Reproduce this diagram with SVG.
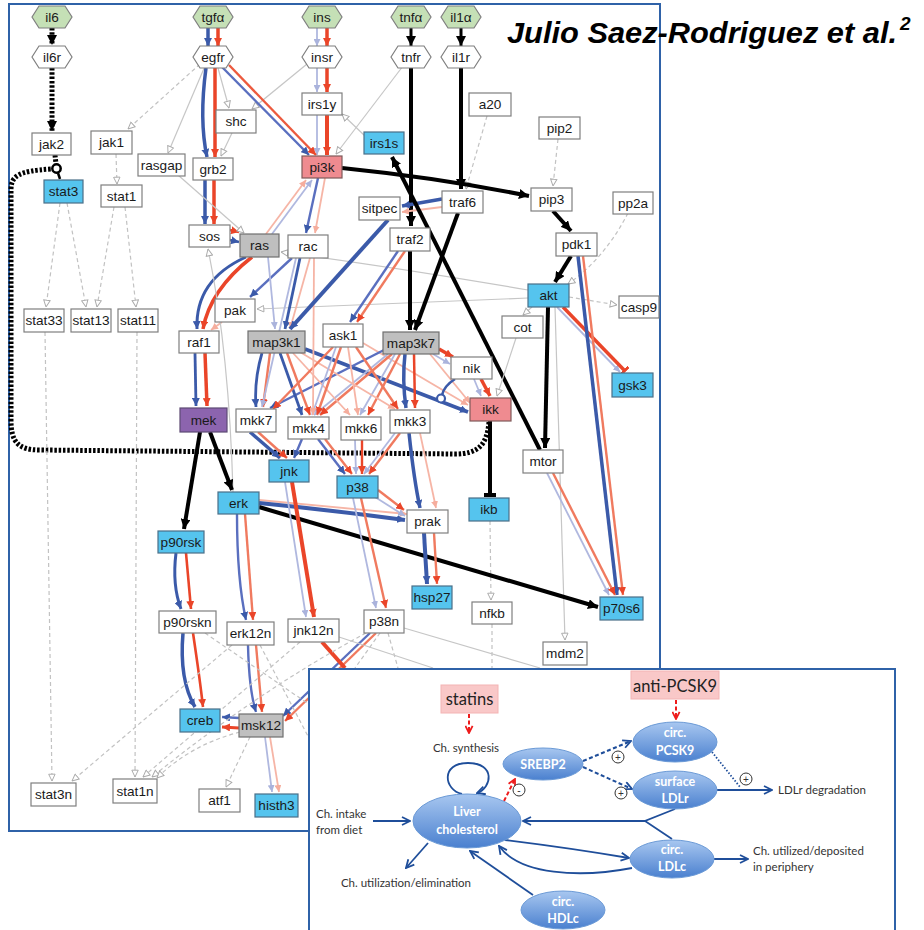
<svg xmlns="http://www.w3.org/2000/svg" width="924" height="930" viewBox="0 0 924 930">
<defs>
  <style>
    .t{font-family:"Liberation Sans",Arial,sans-serif;font-size:13.6px;fill:#1a1a1a;text-anchor:middle}
    .box{fill:#fff;stroke:#7f7f7f;stroke-width:1.2}
    .bl-n{fill:#55c4ee;stroke:#4a6f88;stroke-width:1.2}
    .pk-n{fill:#ef8b90;stroke:#7f5a5a;stroke-width:1.2}
    .gy-n{fill:#bfbfbf;stroke:#6f6f6f;stroke-width:1.2}
    .pu-n{fill:#8c64ae;stroke:#5d4a73;stroke-width:1.2}
    .hx-g{fill:#c5e0b6;stroke:#7f7f7f;stroke-width:1.2}
    .hx-w{fill:#fff;stroke:#7f7f7f;stroke-width:1.2}
    #edges path{fill:none}
    .k{stroke:#000;stroke-width:4}
    .kd{stroke:#000;stroke-width:5;stroke-dasharray:2.5 1.8}
    .b{stroke:#3b5aa9;stroke-width:3.5}
    .bm{stroke:#5a6fbf;stroke-width:2.4}
    .bl{stroke:#b0b8df;stroke-width:1.8}
    .r{stroke:#ea4529;stroke-width:3.5}
    .rm{stroke:#f07a5f;stroke-width:2.4}
    .rl{stroke:#f6b5a6;stroke-width:1.8}
    .g{stroke:#c6c6c6;stroke-width:1.2}
    .gd{stroke:#c2c2c2;stroke-width:1.2;stroke-dasharray:4 3}
    .it{font-family:Lato,"Open Sans",sans-serif;font-size:11.5px;fill:#333}
    .et{font-family:Lato,"Open Sans",sans-serif;font-size:12.5px;font-weight:bold;fill:#fff;text-anchor:middle}
    .ia{stroke:#1f4e9a;stroke-width:1.8;fill:none}
    .iad{stroke:#1f4e9a;stroke-width:2;stroke-dasharray:4 2.5;fill:none}
    .rd{stroke:#ee1c1c;stroke-width:2;stroke-dasharray:4 2.5;fill:none}
    .ell{fill:url(#eg);stroke:#6b9ad6;stroke-width:1}
    .sg{fill:#fff;stroke:#333;stroke-width:1}
  </style>
  <linearGradient id="eg" x1="0" y1="0" x2="0" y2="1">
    <stop offset="0" stop-color="#a8c7f0"/>
    <stop offset="1" stop-color="#4a80cf"/>
  </linearGradient>
  <marker id="mk" viewBox="0 0 10 10" refX="10" refY="5" markerWidth="10" markerHeight="10" markerUnits="userSpaceOnUse" orient="auto"><path d="M0,0L10,5L0,10z" fill="#000"/></marker>
  <marker id="mb" viewBox="0 0 10 10" refX="10" refY="5" markerWidth="8" markerHeight="8" markerUnits="userSpaceOnUse" orient="auto"><path d="M0,0L10,5L0,10z" fill="#3b5aa9"/></marker>
  <marker id="mr" viewBox="0 0 10 10" refX="10" refY="5" markerWidth="8" markerHeight="8" markerUnits="userSpaceOnUse" orient="auto"><path d="M0,0L10,5L0,10z" fill="#ea4529"/></marker>
  <marker id="mbl" viewBox="0 0 10 10" refX="10" refY="5" markerWidth="7" markerHeight="7" markerUnits="userSpaceOnUse" orient="auto"><path d="M0,0L10,5L0,10z" fill="#aab3dc"/></marker>
  <marker id="mrl" viewBox="0 0 10 10" refX="10" refY="5" markerWidth="7" markerHeight="7" markerUnits="userSpaceOnUse" orient="auto"><path d="M0,0L10,5L0,10z" fill="#f5ad9d"/></marker>
  <marker id="mg" viewBox="0 0 10 10" refX="9.5" refY="5" markerWidth="8" markerHeight="8" markerUnits="userSpaceOnUse" orient="auto"><path d="M1,1L9.5,5L1,9z" fill="#fff" stroke="#aaa" stroke-width="1.2"/></marker>
  <marker id="tk" viewBox="0 0 4 12" refX="3" refY="6" markerWidth="4" markerHeight="12" markerUnits="userSpaceOnUse" orient="auto"><rect x="0" y="0" width="4" height="12" fill="#000"/></marker>
  <marker id="tr" viewBox="0 0 3 11" refX="2" refY="5.5" markerWidth="3" markerHeight="11" markerUnits="userSpaceOnUse" orient="auto"><rect x="0" y="0" width="3" height="11" fill="#ea4529"/></marker>
  <marker id="mi" viewBox="0 0 10 10" refX="9" refY="5" markerWidth="10" markerHeight="10" markerUnits="userSpaceOnUse" orient="auto"><path d="M1,1L9,5L1,9" fill="none" stroke="#1f4e9a" stroke-width="1.8"/></marker>
  <marker id="mird" viewBox="0 0 10 10" refX="9" refY="5" markerWidth="9" markerHeight="9" markerUnits="userSpaceOnUse" orient="auto"><path d="M1,1L9,5L1,9" fill="none" stroke="#ee1c1c" stroke-width="2"/></marker>
</defs>

<rect width="924" height="930" fill="#fff"/>
<!-- network frame -->
<rect x="9" y="4" width="651" height="827" fill="#fff" stroke="#2f62a8" stroke-width="2"/>

<g id="edges">
  <!-- dotted feedback and il6 branch -->
  <path class="kd" d="M52,28L52,45" marker-end="url(#mk)"/>
  <path class="kd" d="M52,68L52,131" marker-end="url(#mk)"/>
  <path class="kd" d="M55,155L56,164"/>
  <path class="kd" d="M489,422C487,445 478,454 455,454L40,450C18,450 11,442 11,420L11,190C11,176 18,171 51,169"/>
  <circle cx="56.5" cy="168.5" r="4.2" fill="#fff" stroke="#000" stroke-width="2.5"/>
  <path class="k" style="stroke-width:2.5" d="M58,173L60,179"/>

  <!-- ligands to receptors -->
  <path class="b" d="M208,28L208,46" marker-end="url(#mb)"/>
  <path class="r" d="M218,28L218,46" marker-end="url(#mr)"/>
  <path class="bl" d="M317,28L317,46" marker-end="url(#mbl)"/>
  <path class="r" d="M327,28L327,46" marker-end="url(#mr)"/>
  <path class="k" style="stroke-width:3" d="M411,28L411,46" marker-end="url(#mk)"/>
  <path class="k" style="stroke-width:3" d="M461,28L461,46" marker-end="url(#mk)"/>
  <path class="bl" d="M317,68L317,92" marker-end="url(#mbl)"/>
  <path class="r" d="M327,68L327,92" marker-end="url(#mr)"/>
  <path class="bl" d="M317,115L317,155" marker-end="url(#mbl)"/>
  <path class="r" style="stroke-width:4" d="M327,115L327,155" marker-end="url(#mr)"/>

  <!-- egfr branch -->
  <path class="gd" d="M200,64L128,129" marker-end="url(#mg)"/>
  <path class="g" d="M205,66L168,153" marker-end="url(#mg)"/>
  <path class="g" d="M218,68L229,108" marker-end="url(#mg)"/>
  <path class="g" d="M232,133L221,156" marker-end="url(#mg)"/>
  <path class="g" d="M307,64L252,109" marker-end="url(#mg)"/>
  <path class="b" d="M206,68Q199,120 207,157" marker-end="url(#mb)"/>
  <path class="r" d="M215,68L215,157" marker-end="url(#mr)"/>
  <path class="bm" d="M222,67L309,155" marker-end="url(#mb)"/>
  <path class="rm" style="stroke:#ec5a3e" d="M229,65L316,155" marker-end="url(#mr)"/>
  <path class="b" d="M205,180L205,224" marker-end="url(#mb)"/>
  <path class="r" d="M214,180L214,224" marker-end="url(#mr)"/>
  <path class="r" style="stroke-width:2.5" d="M230,230L239,232" marker-end="url(#mr)"/>
  <path class="b" style="stroke-width:2.5" d="M230,240L239,242" marker-end="url(#mb)"/>
  <path class="g" d="M178,175L244,233" marker-end="url(#mg)"/>
  <path class="g" d="M403,66L336,154" marker-end="url(#mg)"/>
  <path class="g" d="M365,136L342,114" marker-end="url(#mg)"/>
  <path class="gd" d="M487,116L466,189" marker-end="url(#mg)"/>
  <path class="gd" d="M558,139L553,186" marker-end="url(#mg)"/>
  <path class="gd" d="M116,154L117,184" marker-end="url(#mg)"/>

  <!-- stat branch -->
  <path class="gd" d="M60,203L46,307" marker-end="url(#mg)"/>
  <path class="gd" d="M67,203L86,307" marker-end="url(#mg)"/>
  <path class="gd" d="M114,207L97,307" marker-end="url(#mg)"/>
  <path class="gd" d="M125,207L136,307" marker-end="url(#mg)"/>
  <path class="gd" d="M45,332L52,781" marker-end="url(#mg)"/>
  <path class="gd" d="M137,332L135,777" marker-end="url(#mg)"/>

  <!-- akt / pi3k branch -->
  <path class="k" d="M342,168Q440,178 529,196" marker-end="url(#mk)"/>
  <path class="k" d="M553,211L571,231" marker-end="url(#mk)"/>
  <path class="k" d="M571,256L555,282" marker-end="url(#mk)"/>
  <path class="gd" d="M628,213Q605,258 568,284" marker-end="url(#mg)"/>
  <path class="gd" d="M569,297L617,305" marker-end="url(#mg)"/>
  <path class="bl" d="M557,307L620,372" marker-end="url(#mbl)"/>
  <path class="r" d="M563,307L625,371" marker-end="url(#tr)"/>
  <path class="g" d="M532,307L523,315" marker-end="url(#mg)"/>
  <path class="k" d="M548,307L545,448" marker-end="url(#mk)"/>
  <path class="g" d="M555,307L565,640" marker-end="url(#mg)"/>
  <path class="g" d="M528,290Q400,268 281,252" marker-end="url(#mg)"/>
  <path class="g" d="M528,298L257,309" marker-end="url(#mg)"/>
  <path class="b" d="M578,256L617,595" marker-end="url(#mb)"/>
  <path class="rm" d="M583,256L623,595" marker-end="url(#mr)"/>
  <path class="bl" d="M547,473L609,595" marker-end="url(#mbl)"/>
  <path class="rm" d="M553,473L615,595" marker-end="url(#mr)"/>

  <!-- tnf / il1 branch -->
  <path class="k" d="M411,68L411,226" marker-end="url(#mk)"/>
  <path class="k" d="M461,68L461,189" marker-end="url(#mk)"/>
  <path class="b" d="M442,199L402,206" marker-end="url(#mb)"/>
  <path class="rl" d="M442,207L402,212" marker-end="url(#mrl)"/>
  <path class="k" d="M540,450L392,157" marker-end="url(#mk)"/>
  <path class="k" d="M458,213L415,330" marker-end="url(#mk)"/>
  <path class="k" d="M410,251L410,330" marker-end="url(#mk)"/>
  <path class="k" d="M490,421L490,496" marker-end="url(#tk)"/>
  <path class="gd" d="M490,521L491,600" marker-end="url(#mg)"/>
  <path class="gd" d="M492,624L492,668"/>
  <path class="g" d="M516,338L497,396" marker-end="url(#mg)"/>
  <path class="bl" d="M474,379L481,396" marker-end="url(#mbl)"/>
  <path class="r" d="M481,379L490,396" marker-end="url(#mr)"/>
  <path class="bl" d="M433,354L450,364" marker-end="url(#mbl)"/>
  <path class="r" d="M439,349L453,357" marker-end="url(#mr)"/>
  <path class="rl" d="M430,354L470,403" marker-end="url(#mrl)"/>
  <path class="rl" d="M363,343L468,405" marker-end="url(#mrl)"/>
  <path class="b" d="M305,349L468,412" marker-end="url(#mb)"/>
  <path class="b" style="stroke-width:2.5" d="M455,379Q444,386 442,395"/>
  <circle cx="441" cy="398.5" r="4" fill="#fff" stroke="#3b5aa9" stroke-width="2.2"/>

  <!-- MAP3K to MAP2K layer -->
  <path class="b" d="M405,354Q402,380 406,408" marker-end="url(#mb)"/>
  <path class="r" style="stroke-width:2.5" d="M414,354L415,408" marker-end="url(#mr)"/>
  <path class="bl" d="M395,354L360,415" marker-end="url(#mbl)"/>
  <path class="rm" d="M400,354L368,415" marker-end="url(#mr)"/>
  <path class="bl" d="M388,354L314,415" marker-end="url(#mbl)"/>
  <path class="rm" d="M392,354L320,415" marker-end="url(#mr)"/>
  <path class="bm" d="M384,350L270,408" marker-end="url(#mb)"/>
  <path class="b" style="stroke-width:2.8" d="M262,353Q254,380 256,407" marker-end="url(#mb)"/>
  <path class="rm" d="M270,353L263,407" marker-end="url(#mr)"/>
  <path class="b" style="stroke-width:2.8" d="M280,353L302,415" marker-end="url(#mb)"/>
  <path class="rm" d="M287,353L310,415" marker-end="url(#mr)"/>
  <path class="rl" d="M293,353L350,415" marker-end="url(#mrl)"/>
  <path class="rl" d="M300,352L395,409" marker-end="url(#mrl)"/>
  <path class="rm" d="M333,347L273,409" marker-end="url(#mr)"/>
  <path class="bl" d="M336,347L312,415" marker-end="url(#mbl)"/>
  <path class="rm" d="M341,347L317,415" marker-end="url(#mr)"/>
  <path class="rl" d="M348,347L358,415" marker-end="url(#mrl)"/>
  <path class="rm" d="M356,347L398,409" marker-end="url(#mr)"/>
  <path class="bm" d="M398,251L350,322" marker-end="url(#mb)"/>
  <path class="rm" d="M405,251L357,322" marker-end="url(#mr)"/>

  <!-- ras / rac / pak -->
  <path class="b" style="stroke-width:2.8" d="M300,258L285,329" marker-end="url(#mb)"/>
  <path class="rl" d="M310,258L290,329" marker-end="url(#mrl)"/>
  <path class="bm" d="M292,258L250,297" marker-end="url(#mb)"/>
  <path class="bl" d="M296,258L262,407" marker-end="url(#mbl)"/>
  <path class="rl" d="M314,258L313,415" marker-end="url(#mrl)"/>
  <path class="b" style="stroke-width:4" d="M388,220L290,329" marker-end="url(#mb)"/>
  <path class="b" style="stroke-width:3" d="M246,257Q195,280 197,329" marker-end="url(#mb)"/>
  <path class="r" d="M252,257Q210,290 203,329" marker-end="url(#mr)"/>
  <path class="bl" d="M268,257L275,329" marker-end="url(#mbl)"/>
  <path class="rl" d="M266,234L306,180" marker-end="url(#mrl)"/>
  <path class="bl" d="M272,234L312,180" marker-end="url(#mbl)"/>
  <path class="bm" d="M318,178L306,233" marker-end="url(#mb)"/>
  <path class="rl" d="M325,178L315,233" marker-end="url(#mrl)"/>
  <path class="rl" d="M222,322L211,330" marker-end="url(#mrl)"/>
  <path class="g" d="M233,492Q229,350 208,249" marker-end="url(#mg)"/>

  <!-- MAPK layer -->
  <path class="b" style="stroke-width:2.8" d="M195,353L196,406" marker-end="url(#mb)"/>
  <path class="r" d="M205,353L207,406" marker-end="url(#mr)"/>
  <path class="k" d="M210,432L232,490" marker-end="url(#mk)"/>
  <path class="k" d="M200,432L184,529" marker-end="url(#mk)"/>
  <path class="b" d="M250,432L280,458" marker-end="url(#mb)"/>
  <path class="rm" d="M258,432L287,458" marker-end="url(#mr)"/>
  <path class="bm" d="M302,439L294,458" marker-end="url(#mb)"/>
  <path class="bm" d="M318,439L345,474" marker-end="url(#mb)"/>
  <path class="rm" d="M325,439L352,474" marker-end="url(#mr)"/>
  <path class="bl" d="M355,440L356,474" marker-end="url(#mbl)"/>
  <path class="r" style="stroke-width:2.4" d="M362,440L362,474" marker-end="url(#mr)"/>
  <path class="bl" d="M395,433L364,474" marker-end="url(#mbl)"/>
  <path class="rm" d="M400,433L369,474" marker-end="url(#mr)"/>
  <path class="b" d="M409,433Q414,480 420,508" marker-end="url(#mb)"/>
  <path class="rl" d="M420,433L436,508" marker-end="url(#mrl)"/>

  <!-- downstream -->
  <path class="b" style="stroke-width:3" d="M176,553Q172,585 181,609" marker-end="url(#mb)"/>
  <path class="r" style="stroke-width:2.6" d="M186,553L191,609" marker-end="url(#mr)"/>
  <path class="b" d="M183,633Q179,680 195,707" marker-end="url(#mb)"/>
  <path class="r" style="stroke-width:2.6" d="M193,633Q200,680 203,707" marker-end="url(#mr)"/>
  <path class="bm" d="M237,514Q237,580 246,620" marker-end="url(#mb)"/>
  <path class="rm" d="M245,514L253,620" marker-end="url(#mr)"/>
  <path class="rl" d="M259,500L407,514" marker-end="url(#mrl)"/>
  <path class="b" style="stroke-width:4" d="M259,503Q330,510 405,520" marker-end="url(#mb)"/>
  <path class="k" d="M259,507L598,607" marker-end="url(#mk)"/>
  <path class="bl" d="M285,482L306,617" marker-end="url(#mbl)"/>
  <path class="r" style="stroke-width:4" d="M292,482L314,617" marker-end="url(#mr)"/>
  <path class="bl" d="M375,497L405,516" marker-end="url(#mbl)"/>
  <path class="rm" d="M378,490L404,510" marker-end="url(#mr)"/>
  <path class="bl" d="M353,498L376,608" marker-end="url(#mbl)"/>
  <path class="rm" d="M361,498L386,608" marker-end="url(#mr)"/>
  <path class="b" style="stroke-width:4" d="M424,533L427,584" marker-end="url(#mb)"/>
  <path class="rm" d="M434,533L437,584" marker-end="url(#mr)"/>
  <path class="bm" d="M248,645Q249,690 256,712" marker-end="url(#mb)"/>
  <path class="rm" d="M256,645L262,712" marker-end="url(#mr)"/>
  <path class="bm" d="M370,633L283,716" marker-end="url(#mb)"/>
  <path class="rm" d="M376,633L285,721" marker-end="url(#mr)"/>
  <path class="r" style="stroke-width:4" d="M322,642L345,668"/>
  <path class="bm" d="M239,718L222,717" marker-end="url(#mb)"/>
  <path class="r" style="stroke-width:3" d="M239,728L222,727" marker-end="url(#mr)"/>
  <path class="gd" d="M250,737L226,787" marker-end="url(#mg)"/>
  <path class="bl" d="M265,737L272,792" marker-end="url(#mbl)"/>
  <path class="rl" d="M270,737L279,792" marker-end="url(#mrl)"/>
  <path class="gd" d="M232,645L72,781" marker-end="url(#mg)"/>
  <path class="gd" d="M366,633Q260,690 152,777" marker-end="url(#mg)"/>
  <path class="gd" d="M300,642L143,777" marker-end="url(#mg)"/>
  <path class="gd" d="M240,732Q190,745 157,778" marker-end="url(#mg)"/>
  <path class="gd" d="M260,645L310,740"/>
  <path class="gd" d="M205,633L310,705"/>
  <path class="gd" d="M380,633L355,668"/>
  <path class="gd" d="M388,633L398,668"/>
  <path class="g" d="M339,637L433,668"/>
  <path class="g" d="M404,628L540,668"/>
</g>

<!-- nodes: inputs and receptors -->
<g id="n-il6"><path class="hx-g" d="M32,17L39,6L65,6L72,17L65,28L39,28Z"/><text class="t" x="52" y="21.7">il6</text></g>
<g id="n-tgfa"><path class="hx-g" d="M193,17L200,6L226,6L233,17L226,28L200,28Z"/><text class="t" x="213" y="21.7">tgfα</text></g>
<g id="n-ins"><path class="hx-g" d="M302,17L309,6L335,6L342,17L335,28L309,28Z"/><text class="t" x="322" y="21.7">ins</text></g>
<g id="n-tnfa"><path class="hx-g" d="M391,17L398,6L424,6L431,17L424,28L398,28Z"/><text class="t" x="411" y="21.7">tnfα</text></g>
<g id="n-il1a"><path class="hx-g" d="M441,17L448,6L474,6L481,17L474,28L448,28Z"/><text class="t" x="461" y="21.7">il1α</text></g>
<g id="n-il6r"><path class="hx-w" d="M32,57L39,46L65,46L72,57L65,68L39,68Z"/><text class="t" x="52" y="61.7">il6r</text></g>
<g id="n-egfr"><path class="hx-w" d="M193,57L200,46L226,46L233,57L226,68L200,68Z"/><text class="t" x="213" y="61.7">egfr</text></g>
<g id="n-insr"><path class="hx-w" d="M302,57L309,46L335,46L342,57L335,68L309,68Z"/><text class="t" x="322" y="61.7">insr</text></g>
<g id="n-tnfr"><path class="hx-w" d="M391,57L398,46L424,46L431,57L424,68L398,68Z"/><text class="t" x="411" y="61.7">tnfr</text></g>
<g id="n-il1r"><path class="hx-w" d="M441,57L448,46L474,46L481,57L474,68L448,68Z"/><text class="t" x="461" y="61.7">il1r</text></g>

<!-- nodes: signalling proteins -->
<g id="n-jak2"><rect class="box" x="32" y="133" width="39" height="22"/><text class="t" x="51.5" y="148.7">jak2</text></g>
<g id="n-jak1"><rect class="box" x="91" y="131" width="41" height="23"/><text class="t" x="111.5" y="147.2">jak1</text></g>
<g id="n-shc"><rect class="box" x="216" y="110" width="40" height="23"/><text class="t" x="236" y="126.2">shc</text></g>
<g id="n-rasgap"><rect class="box" x="138" y="154" width="47" height="22"/><text class="t" x="161.5" y="169.7">rasgap</text></g>
<g id="n-grb2"><rect class="box" x="193" y="158" width="40" height="22"/><text class="t" x="213" y="173.7">grb2</text></g>
<g id="n-stat3"><rect class="bl-n" x="44" y="180" width="39" height="23"/><text class="t" x="63.5" y="196.2">stat3</text></g>
<g id="n-stat1"><rect class="box" x="101" y="185" width="41" height="22"/><text class="t" x="121.5" y="200.7">stat1</text></g>
<g id="n-irs1y"><rect class="box" x="302" y="93" width="40" height="22"/><text class="t" x="322" y="108.7">irs1y</text></g>
<g id="n-pi3k"><rect class="pk-n" x="302" y="156" width="40" height="22"/><text class="t" x="322" y="171.7">pi3k</text></g>
<g id="n-irs1s"><rect class="bl-n" x="364" y="132" width="40" height="22"/><text class="t" x="384" y="147.7">irs1s</text></g>
<g id="n-a20"><rect class="box" x="469" y="93" width="42" height="23"/><text class="t" x="490" y="109.2">a20</text></g>
<g id="n-pip2"><rect class="box" x="539" y="117" width="41" height="22"/><text class="t" x="559.5" y="132.7">pip2</text></g>
<g id="n-traf6"><rect class="box" x="442" y="191" width="41" height="22"/><text class="t" x="462.5" y="206.7">traf6</text></g>
<g id="n-pip3"><rect class="box" x="531" y="188" width="41" height="23"/><text class="t" x="551.5" y="204.2">pip3</text></g>
<g id="n-sitpec"><rect class="box" x="359" y="197" width="41" height="23"/><text class="t" x="379.5" y="213.2">sitpec</text></g>
<g id="n-pp2a"><rect class="box" x="613" y="192" width="40" height="22"/><text class="t" x="633" y="207.7">pp2a</text></g>
<g id="n-sos"><rect class="box" x="189" y="225" width="41" height="22"/><text class="t" x="209.5" y="240.7">sos</text></g>
<g id="n-ras"><rect class="gy-n" x="240" y="234" width="39" height="23"/><text class="t" x="259.5" y="250.2">ras</text></g>
<g id="n-rac"><rect class="box" x="288" y="235" width="40" height="23"/><text class="t" x="308" y="251.2">rac</text></g>
<g id="n-traf2"><rect class="box" x="390" y="228" width="40" height="23"/><text class="t" x="410" y="244.2">traf2</text></g>
<g id="n-pdk1"><rect class="box" x="556" y="233" width="41" height="23"/><text class="t" x="576.5" y="249.2">pdk1</text></g>
<g id="n-akt"><rect class="bl-n" x="528" y="284" width="41" height="23"/><text class="t" x="548.5" y="300.2">akt</text></g>
<g id="n-casp9"><rect class="box" x="619" y="296" width="40" height="22"/><text class="t" x="639" y="311.7">casp9</text></g>
<g id="n-pak"><rect class="box" x="215" y="299" width="40" height="23"/><text class="t" x="235" y="315.2">pak</text></g>
<g id="n-stat33"><rect class="box" x="24" y="309" width="40" height="23"/><text class="t" x="44" y="325.2">stat33</text></g>
<g id="n-stat13"><rect class="box" x="71" y="309" width="40" height="23"/><text class="t" x="91" y="325.2">stat13</text></g>
<g id="n-stat11"><rect class="box" x="118" y="309" width="40" height="23"/><text class="t" x="138" y="325.2">stat11</text></g>
<g id="n-raf1"><rect class="box" x="179" y="331" width="40" height="22"/><text class="t" x="199" y="346.7">raf1</text></g>
<g id="n-map3k1"><rect class="gy-n" x="248" y="331" width="57" height="22"/><text class="t" x="276.5" y="346.7">map3k1</text></g>
<g id="n-ask1"><rect class="box" x="323" y="324" width="40" height="23"/><text class="t" x="343" y="340.2">ask1</text></g>
<g id="n-map3k7"><rect class="gy-n" x="383" y="332" width="56" height="22"/><text class="t" x="411" y="347.7">map3k7</text></g>
<g id="n-cot"><rect class="box" x="502" y="316" width="41" height="22"/><text class="t" x="522.5" y="331.7">cot</text></g>
<g id="n-nik"><rect class="box" x="451" y="357" width="41" height="22"/><text class="t" x="471.5" y="372.7">nik</text></g>
<g id="n-ikk"><rect class="pk-n" x="470" y="398" width="41" height="23"/><text class="t" x="490.5" y="414.2">ikk</text></g>
<g id="n-gsk3"><rect class="bl-n" x="612" y="373" width="41" height="24"/><text class="t" x="632.5" y="389.7">gsk3</text></g>
<g id="n-mek"><rect class="pu-n" x="180" y="408" width="47" height="24"/><text class="t" x="203.5" y="424.7">mek</text></g>
<g id="n-mkk7"><rect class="box" x="236" y="409" width="40" height="23"/><text class="t" x="256" y="425.2">mkk7</text></g>
<g id="n-mkk4"><rect class="box" x="288" y="417" width="41" height="22"/><text class="t" x="308.5" y="432.7">mkk4</text></g>
<g id="n-mkk6"><rect class="box" x="341" y="417" width="40" height="23"/><text class="t" x="361" y="433.2">mkk6</text></g>
<g id="n-mkk3"><rect class="box" x="390" y="410" width="40" height="23"/><text class="t" x="410" y="426.2">mkk3</text></g>
<g id="n-mtor"><rect class="box" x="523" y="450" width="40" height="23"/><text class="t" x="543" y="466.2">mtor</text></g>
<g id="n-jnk"><rect class="bl-n" x="269" y="460" width="40" height="22"/><text class="t" x="289" y="475.7">jnk</text></g>
<g id="n-p38"><rect class="bl-n" x="337" y="476" width="41" height="22"/><text class="t" x="357.5" y="491.7">p38</text></g>
<g id="n-erk"><rect class="bl-n" x="218" y="492" width="41" height="22"/><text class="t" x="238.5" y="507.7">erk</text></g>
<g id="n-prak"><rect class="box" x="407" y="510" width="41" height="23"/><text class="t" x="427.5" y="526.2">prak</text></g>
<g id="n-ikb"><rect class="bl-n" x="469" y="498" width="40" height="23"/><text class="t" x="489" y="514.2">ikb</text></g>
<g id="n-p90rsk"><rect class="bl-n" x="158" y="531" width="46" height="22"/><text class="t" x="181" y="546.7">p90rsk</text></g>
<g id="n-hsp27"><rect class="bl-n" x="412" y="586" width="40" height="23"/><text class="t" x="432" y="602.2">hsp27</text></g>
<g id="n-nfkb"><rect class="box" x="472" y="602" width="40" height="22"/><text class="t" x="492" y="617.7">nfkb</text></g>
<g id="n-p70s6"><rect class="bl-n" x="600" y="597" width="43" height="23"/><text class="t" x="621.5" y="613.2">p70s6</text></g>
<g id="n-p38n"><rect class="box" x="364" y="610" width="40" height="23"/><text class="t" x="384" y="626.2">p38n</text></g>
<g id="n-jnk12n"><rect class="box" x="288" y="619" width="51" height="23"/><text class="t" x="313.5" y="635.2">jnk12n</text></g>
<g id="n-erk12n"><rect class="box" x="227" y="622" width="47" height="23"/><text class="t" x="250.5" y="638.2">erk12n</text></g>
<g id="n-p90rskn"><rect class="box" x="159" y="611" width="57" height="22"/><text class="t" x="187.5" y="626.7">p90rskn</text></g>
<g id="n-mdm2"><rect class="box" x="543" y="642" width="44" height="23"/><text class="t" x="565" y="658.2">mdm2</text></g>
<g id="n-creb"><rect class="bl-n" x="180" y="709" width="40" height="23"/><text class="t" x="200" y="725.2">creb</text></g>
<g id="n-msk12"><rect class="gy-n" x="239" y="714" width="44" height="23"/><text class="t" x="261" y="730.2">msk12</text></g>
<g id="n-stat3n"><rect class="box" x="31" y="783" width="45" height="23"/><text class="t" x="53.5" y="799.2">stat3n</text></g>
<g id="n-stat1n"><rect class="box" x="113" y="779" width="44" height="24"/><text class="t" x="135" y="795.7">stat1n</text></g>
<g id="n-atf1"><rect class="box" x="199" y="789" width="41" height="23"/><text class="t" x="219.5" y="805.2">atf1</text></g>
<g id="n-histh3"><rect class="bl-n" x="255" y="794" width="43" height="23"/><text class="t" x="276.5" y="810.2">histh3</text></g>

<!-- author credit -->
<text x="507" y="43" font-family="Liberation Sans,Arial,sans-serif" font-size="30" font-weight="bold" font-style="italic" fill="#000" textLength="390" lengthAdjust="spacingAndGlyphs">Julio Saez-Rodriguez et al.</text>
<text x="900" y="30" font-family="Liberation Sans,Arial,sans-serif" font-size="19" font-weight="bold" font-style="italic" fill="#000">2</text>

<!-- cholesterol homeostasis panel -->
<g id="panel">
  <rect x="309" y="669" width="586" height="275" fill="#fff" stroke="#2f62a8" stroke-width="2"/>
</g>
<g id="panel-edges">
  <path class="rd" d="M469,714L469,733" marker-end="url(#mird)"/>
  <path class="rd" d="M676,700L676,719" marker-end="url(#mird)"/>
  <path class="ia" d="M462,794C444,790 440,763 468,763C496,763 492,788 477,793" marker-end="url(#mi)"/>
  <path class="rd" d="M504,801L515,779" marker-end="url(#mird)"/>
  <path class="ia" d="M373,821L410,821" marker-end="url(#mi)"/>
  <path class="ia" d="M428,843L406,868" marker-end="url(#mi)"/>
  <path class="ia" d="M533,895L470,851" marker-end="url(#mi)"/>
  <path class="iad" d="M583,761L631,741" marker-end="url(#mi)"/>
  <path class="iad" d="M583,767L632,789" marker-end="url(#mi)"/>
  <path class="ia" d="M717,790L772,790" marker-end="url(#mi)"/>
  <path class="ia" style="stroke-dasharray:1.5 1.8" d="M712,752L740,787"/>
  <path class="ia" d="M675,809L645,821L672,839"/>
  <path class="ia" d="M645,821L523,821" marker-end="url(#mi)"/>
  <path class="ia" d="M505,840Q570,848 629,858" marker-end="url(#mi)"/>
  <path class="ia" d="M632,868C580,878 520,875 499,846" marker-end="url(#mi)"/>
  <path class="ia" d="M714,859L748,859" marker-end="url(#mi)"/>
</g>
<g id="p-statins"><rect x="441" y="685" width="57" height="28" fill="#f9c8c8" stroke="#f3b4b4" stroke-width="1"/><text x="469.5" y="705" font-family="Lato,'Open Sans',sans-serif" font-size="16.5" fill="#222" text-anchor="middle">statins</text></g>
<g id="p-antipcsk9"><rect x="631" y="671" width="88" height="28" fill="#f9c8c8" stroke="#f3b4b4" stroke-width="1"/><text x="675" y="692" font-family="Lato,'Open Sans',sans-serif" font-size="16.5" fill="#222" text-anchor="middle">anti-PCSK9</text></g>
<g id="p-liver"><ellipse class="ell" cx="467" cy="821" rx="54" ry="27"/><text class="et" x="467" y="816">Liver</text><text class="et" x="467" y="834">cholesterol</text></g>
<g id="p-srebp2"><ellipse class="ell" cx="543" cy="764" rx="40" ry="16"/><text class="et" x="543" y="768.5">SREBP2</text></g>
<g id="p-hdlc"><ellipse class="ell" cx="563" cy="910" rx="42" ry="19"/><text class="et" x="563" y="906">circ.</text><text class="et" x="563" y="923">HDLc</text></g>
<g id="p-pcsk9"><ellipse class="ell" cx="675" cy="742" rx="42" ry="20"/><text class="et" x="675" y="737">circ.</text><text class="et" x="675" y="755">PCSK9</text></g>
<g id="p-ldlr"><ellipse class="ell" cx="675" cy="790" rx="42" ry="19"/><text class="et" x="675" y="786">surface</text><text class="et" x="675" y="803">LDLr</text></g>
<g id="p-ldlc"><ellipse class="ell" cx="672" cy="859" rx="42" ry="19"/><text class="et" x="672" y="854">circ.</text><text class="et" x="672" y="871">LDLc</text></g>
<g id="p-signs">
  <circle class="sg" cx="519" cy="790" r="6"/><text x="519" y="793.5" font-family="Liberation Sans,sans-serif" font-size="10" text-anchor="middle" fill="#333">-</text>
  <circle class="sg" cx="618" cy="757" r="6"/><text x="618" y="760.5" font-family="Liberation Sans,sans-serif" font-size="10" text-anchor="middle" fill="#333">+</text>
  <circle class="sg" cx="621" cy="793" r="6"/><text x="621" y="796.5" font-family="Liberation Sans,sans-serif" font-size="10" text-anchor="middle" fill="#333">+</text>
  <circle class="sg" cx="746" cy="779" r="6"/><text x="746" y="782.5" font-family="Liberation Sans,sans-serif" font-size="10" text-anchor="middle" fill="#333">+</text>
</g>
<g id="p-labels">
  <text class="it" x="466" y="752" text-anchor="middle">Ch. synthesis</text>
  <text class="it" x="316" y="818">Ch. intake</text>
  <text class="it" x="316" y="834">from diet</text>
  <text class="it" x="406" y="887" text-anchor="middle">Ch. utilization/elimination</text>
  <text class="it" x="778" y="794">LDLr degradation</text>
  <text class="it" x="753" y="855">Ch. utilized/deposited</text>
  <text class="it" x="753" y="871">in periphery</text>
</g>
</svg>
